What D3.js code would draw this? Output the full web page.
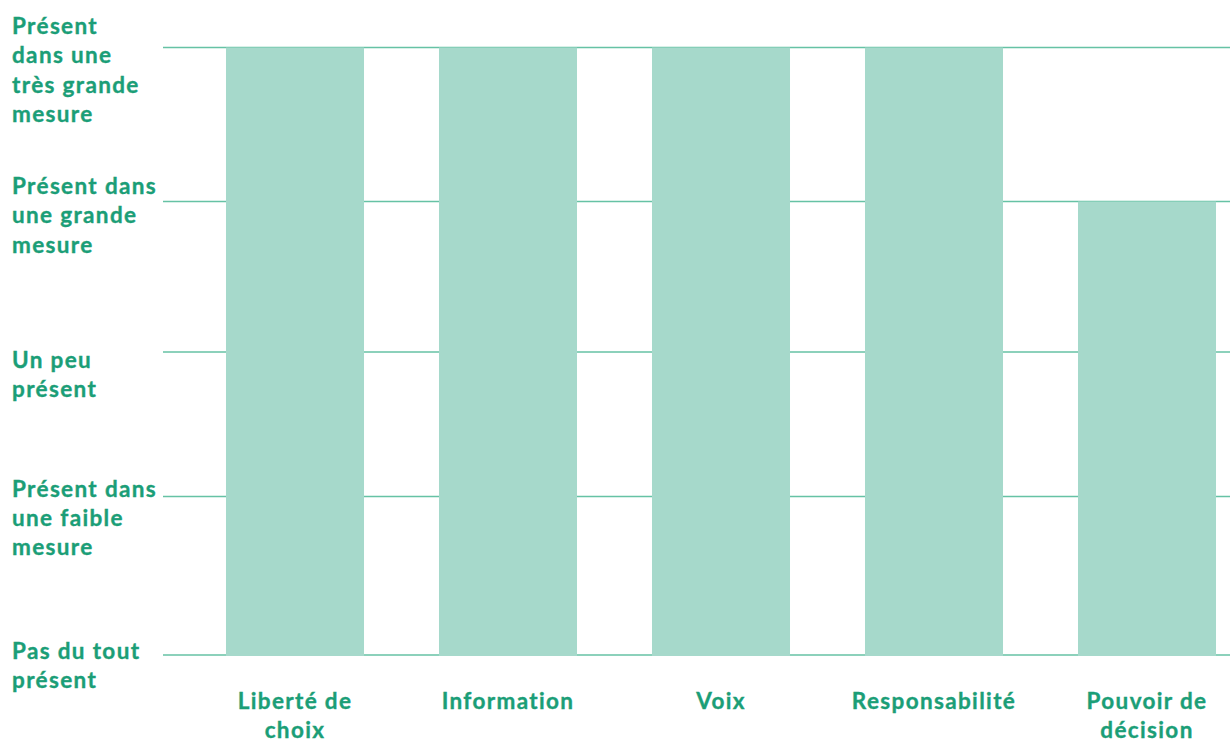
<!DOCTYPE html>
<html>
<head>
<meta charset="utf-8">
<script src="https://cdn.jsdelivr.net/npm/d3@7/dist/d3.min.js"></script>
<style>
  html, body { margin: 0; padding: 0; background: #ffffff; }
  svg { display: block; }
  text { font-family: Lato, "Noto Sans", sans-serif; font-weight: 700; fill: #1b9e77; stroke: #1b9e77; stroke-width: 0.35px; letter-spacing: 1.35px; }
</style>
</head>
<body>
<svg id="chart" width="1230" height="740"></svg>
<script>
// ---- data ----
const categories = [["Liberté de", "choix"], ["Information"], ["Voix"], ["Responsabilité"], ["Pouvoir de", "décision"]];
const values = [4, 4, 4, 4, 3];
const levelValues = [0, 1, 2, 3, 4];
const levelLabels = [
  ["Pas du tout", "présent"],
  ["Présent dans", "une faible", "mesure"],
  ["Un peu", "présent"],
  ["Présent dans", "une grande", "mesure"],
  ["Présent", "dans une", "très grande", "mesure"]
];

// ---- layout ----
const svg = d3.select("#chart");
const gridX0 = 163, gridX1 = 1230;
const y = d3.scaleLinear().domain(levelValues).range([655, 496.5, 352, 201.5, 47.5]);
const x = d3.scaleBand()
  .domain(d3.range(categories.length))
  .range([188.5, 1253.5])
  .paddingInner(0.352)
  .paddingOuter(0.176);

const lineH = 29.3;
const labelDy = [4, 0.3, 15.7, -7.6, -13.6];

// gridlines
svg.append("g").selectAll("line").data(levelValues).join("line")
  .attr("x1", gridX0).attr("x2", gridX1)
  .attr("y1", d => y(d)).attr("y2", d => y(d))
  .attr("stroke", "#66c2a5").attr("stroke-width", 1.6);

// bars
svg.append("g").selectAll("rect").data(values).join("rect")
  .attr("x", (d, i) => x(i))
  .attr("width", x.bandwidth())
  .attr("y", d => y(d))
  .attr("height", d => y(0) + 1 - y(d))
  .attr("fill", "#a6d9cb");

// y labels
const yl = svg.append("g").selectAll("text").data(levelValues).join("text")
  .attr("x", 12)
  .attr("font-size", 22.5);
yl.each(function(d, i) {
  const t = d3.select(this);
  levelLabels[i].forEach((ln, k) => {
    t.append("tspan").attr("x", 12).attr("y", y(d) + labelDy[i] + k * lineH).text(ln);
  });
});

// x labels
const xl = svg.append("g").selectAll("text").data(categories).join("text")
  .attr("text-anchor", "middle")
  .attr("font-size", 22.5);
xl.each(function(d, i) {
  const t = d3.select(this);
  const cx = x(i) + x.bandwidth() / 2;
  d.forEach((ln, k) => {
    t.append("tspan").attr("x", cx).attr("y", 709 + k * lineH).text(ln);
  });
});
</script>
</body>
</html>
